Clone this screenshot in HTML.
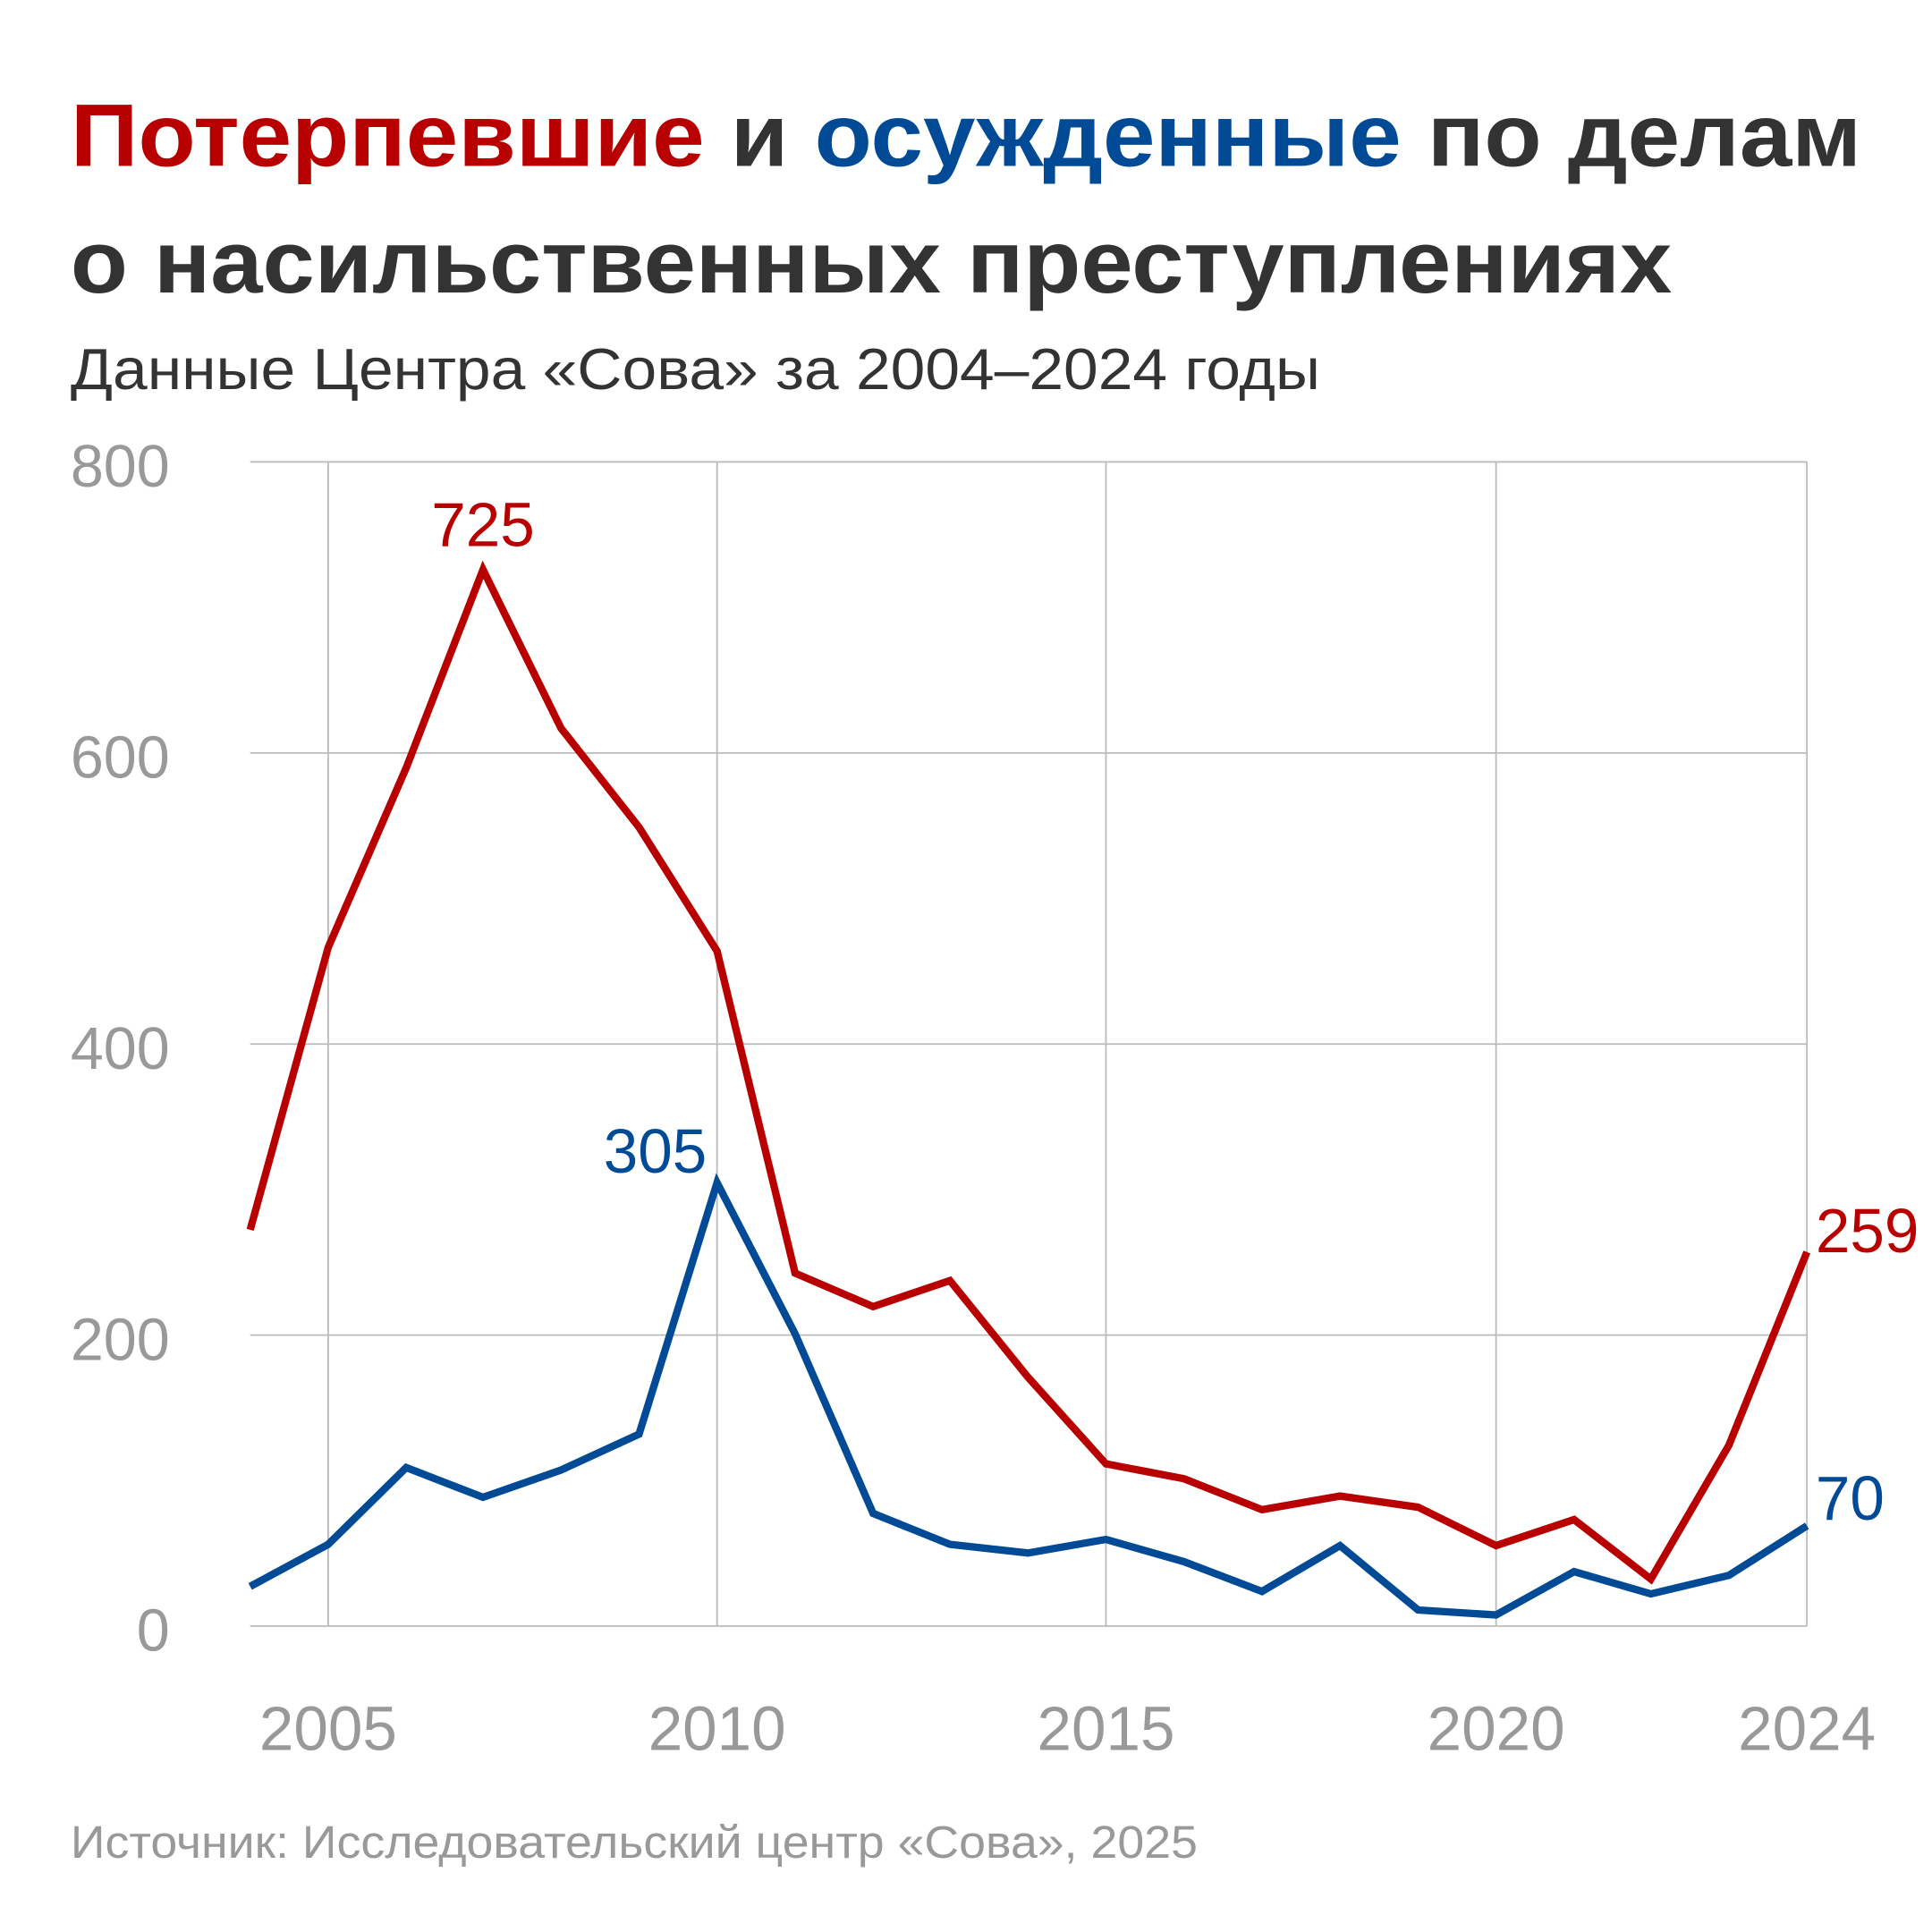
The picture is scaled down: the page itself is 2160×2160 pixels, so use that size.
<!DOCTYPE html>
<html><head><meta charset="utf-8"><style>html,body{margin:0;padding:0;background:#fff}svg{display:block}</style></head>
<body>
<svg width="2160" height="2160" viewBox="0 0 1560 1560" xmlns="http://www.w3.org/2000/svg" font-family="'Liberation Sans','DejaVu Sans',sans-serif">
<rect width="1560" height="1560" fill="#fff"/>
<text x="57" y="134" font-size="72" font-weight="bold" fill="#333" textLength="1446" lengthAdjust="spacingAndGlyphs"><tspan fill="#b80000">Потерпевшие</tspan> и <tspan fill="#004a96">осужденные</tspan> по делам</text>
<text x="57" y="236" font-size="72" font-weight="bold" fill="#333" textLength="1293" lengthAdjust="spacingAndGlyphs">о насильственных преступлениях</text>
<text x="57" y="314" font-size="47" fill="#333" textLength="1009" lengthAdjust="spacingAndGlyphs">Данные Центра «Сова» за 2004–2024 годы</text>
<g stroke="#bbb" stroke-width="1.3">
<line x1="202" y1="373" x2="1459" y2="373"/><line x1="202" y1="608" x2="1459" y2="608"/><line x1="202" y1="843" x2="1459" y2="843"/><line x1="202" y1="1078" x2="1459" y2="1078"/><line x1="202" y1="1313" x2="1459" y2="1313"/>
<line x1="265" y1="373" x2="265" y2="1313"/><line x1="579" y1="373" x2="579" y2="1313"/><line x1="893" y1="373" x2="893" y2="1313"/><line x1="1208" y1="373" x2="1208" y2="1313"/><line x1="1459" y1="373" x2="1459" y2="1313"/>
</g>
<g font-size="48" fill="#999" text-anchor="end">
<text x="137" y="393">800</text><text x="137" y="628">600</text><text x="137" y="863">400</text><text x="137" y="1098">200</text><text x="137" y="1333">0</text>
</g>
<g font-size="50" fill="#999" text-anchor="middle">
<text x="265" y="1413">2005</text><text x="579" y="1413">2010</text><text x="893" y="1413">2015</text><text x="1208" y="1413">2020</text><text x="1459" y="1413">2024</text>
</g>
<polyline fill="none" stroke="#b80000" stroke-width="6" stroke-linejoin="miter" points="202,993 265,765 328,620 390,460 453,588 516,668 579,768 642,1028 705,1055 767,1034 830,1112 893,1182 956,1194 1019,1219 1082,1208 1145,1217 1208,1248 1271,1227 1333,1275 1396,1167 1459,1011"/>
<polyline fill="none" stroke="#004a96" stroke-width="6" stroke-linejoin="miter" points="202,1281 265,1247 328,1185 390,1209 453,1187 516,1158 579,955 642,1077 705,1222 767,1247 830,1254 893,1243 956,1261 1019,1285 1082,1248 1145,1300 1208,1304 1271,1269 1333,1287 1396,1272 1459,1232"/>
<text x="390" y="441" font-size="50" fill="#b80000" text-anchor="middle">725</text>
<text x="529" y="947" font-size="50" fill="#004a96" text-anchor="middle">305</text>
<text x="1466" y="1011" font-size="50" fill="#b80000">259</text>
<text x="1466" y="1227" font-size="50" fill="#004a96">70</text>
<text x="57" y="1500" font-size="37" fill="#999" textLength="910" lengthAdjust="spacingAndGlyphs">Источник: Исследовательский центр «Сова», 2025</text>
</svg>
</body></html>
